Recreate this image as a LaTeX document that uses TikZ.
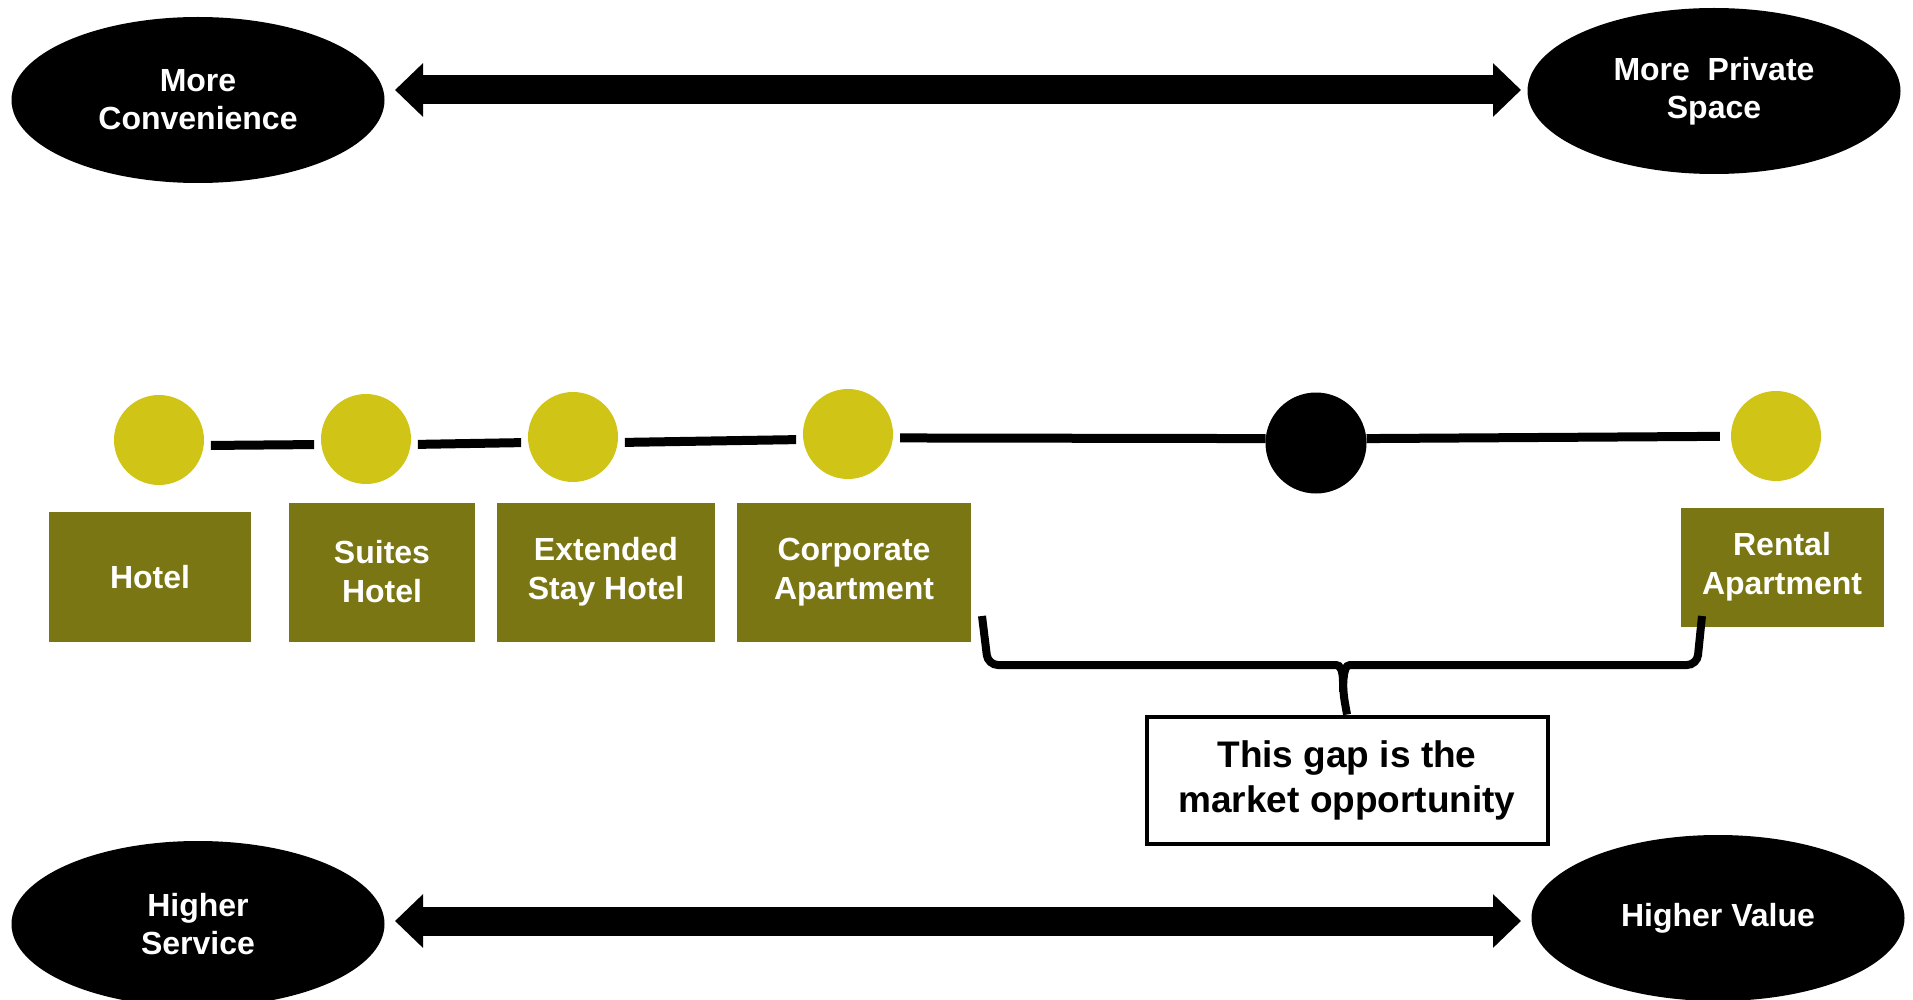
\documentclass[tikz,border=0pt]{standalone}
\usepackage{fontspec}
\setmainfont{Liberation Sans}
\usetikzlibrary{shapes.geometric,arrows.meta}
\definecolor{dotyellow}{RGB}{208,196,22}
\definecolor{boxolive}{RGB}{122,118,19}
\tikzset{
	endpoint/.style={ellipse, fill=black, text=white, minimum width=373pt, minimum height=166pt, inner sep=0pt, align=center, font=\fontsize{32}{38}\selectfont\bfseries},
	station/.style={circle, fill=dotyellow, minimum size=90pt, inner sep=0pt},
	typebox/.style={rectangle, fill=boxolive, text=white, inner sep=0pt, align=center, font=\fontsize{32}{39}\selectfont\bfseries},
	track/.style={line width=9pt, shorten <=7pt, shorten >=7pt},
	axisarrow/.style={line width=29pt, {Triangle[length=28pt 0 0,width=52pt 0 0]}-{Triangle[length=28pt 0 0,width=52pt 0 0]}},
}
\begin{document}
\begin{tikzpicture}[x=1pt,y=-1pt]
		\useasboundingbox (0,0) rectangle (1913,1000);
		% scale ends
		\node[endpoint] (conv) at (198,100) {More\\Convenience};
		\node[endpoint] (priv) at (1714,91) {More\ \ Private\\Space};
		\node[endpoint] (serv) at (198,924) {Higher\\Service};
		\node[endpoint] (val) at (1718,918) {Higher Value};
		\coordinate (topL) at (395,90);
		\coordinate (topR) at (1521,90);
		\coordinate (botL) at (395,921);
		\coordinate (botR) at (1521,921);
		\draw[axisarrow] (topL) -- (topR);
		\draw[axisarrow] (botL) -- (botR);
		% line of options
		\node[station] (hotel) at (159,440) {};
		\node[station] (suites) at (366,439) {};
		\node[station] (ext) at (573,437) {};
		\node[station] (corp) at (848,434) {};
		\node[circle, fill=black, minimum size=101pt, inner sep=0pt] (gapdot) at (1316,443) {};
		\node[station] (rental) at (1776,436) {};
		\draw[track] (hotel.-7) -- (suites.187);
		\draw[track] (suites.-7) -- (ext.187);
		\draw[track] (ext.-7) -- (corp.187);
		\draw[track, shorten >=0pt] (corp.-5) -- (gapdot.175);
		\draw[track, shorten <=0pt, shorten >=11pt] (gapdot.5) -- (rental);
		% labels
		\node[typebox, minimum width=202pt, minimum height=130pt] (hotelbox) at (150,577) {Hotel};
		\node[typebox, minimum width=186pt, minimum height=139pt] (suitesbox) at (382,572) {Suites\\Hotel};
		\node[typebox, minimum width=218pt, minimum height=139pt] (extbox) at (606,572) {Extended\\Stay Hotel};
		\node[typebox, minimum width=234pt, minimum height=139pt] (corpbox) at (854,572) {Corporate\\Apartment};
		\node[typebox, minimum width=203pt, minimum height=119pt] (rentalbox) at (1782,567) {Rental\\Apartment};
		% the gap
		\node[draw, line width=4pt, fill=white, minimum width=401pt, minimum height=127pt, inner sep=0pt, align=center, font=\fontsize{37}{45}\selectfont\bfseries] (msg) at (1347,780) {This gap is the\\market opportunity};
		\coordinate (gapL) at (982,616);
		\coordinate (gapR) at (1702,616);
		\draw[line width=8pt, rounded corners=10pt] (gapL) -- (988,665) -- (1326,665) .. controls (1340,665) and (1343,670) .. (1343,692) -- (msg.north);
		\draw[line width=8pt, rounded corners=10pt] (gapR) -- (1697,665) -- (1360,665) .. controls (1346,665) and (1343,670) .. (1343,692);
	\end{tikzpicture}
\end{document}
